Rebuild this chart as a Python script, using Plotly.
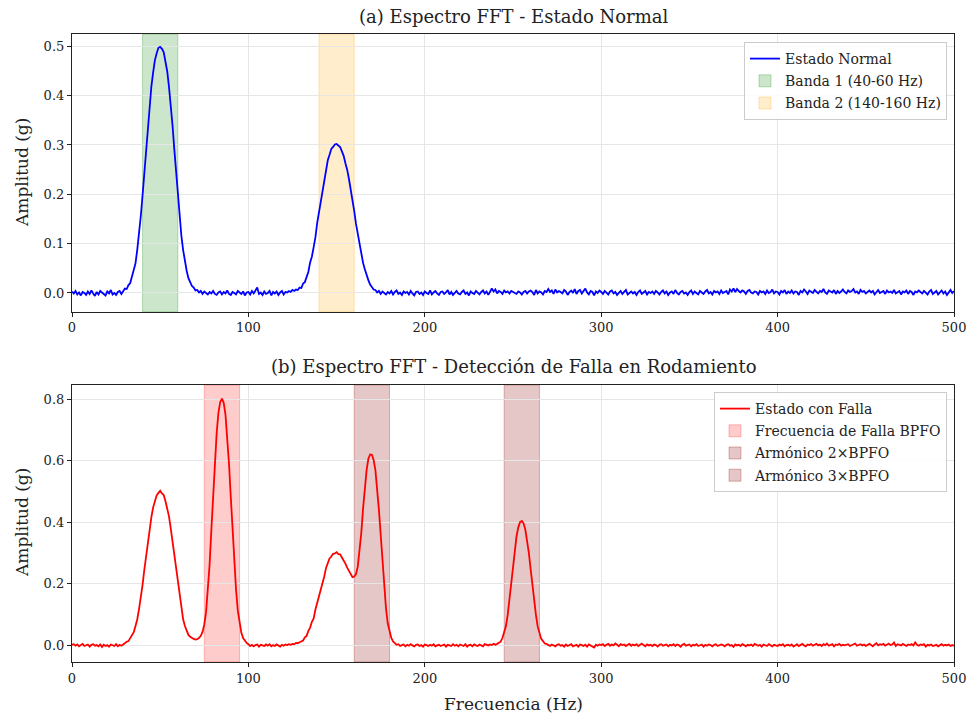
import plotly.graph_objects as go

# ---------------- data ----------------
freq_hz = list(range(0, 501))

amp_normal = [
    0.003, -0.001, 0.004, -0.003, 0.001, -0.005, 0.002, 0.000, -0.004, 0.003,
    -0.002, 0.005, -0.001, -0.006, 0.002, -0.003, 0.004, 0.001, -0.002, -0.005,
    0.003, -0.001, 0.006, -0.003, 0.000, -0.004, 0.002, 0.004, -0.002, 0.003,
    0.009, 0.008, 0.016, 0.020, 0.033, 0.045, 0.060, 0.088, 0.116, 0.156,
    0.198, 0.244, 0.293, 0.337, 0.381, 0.419, 0.447, 0.472, 0.486, 0.497,
    0.499, 0.495, 0.488, 0.470, 0.449, 0.417, 0.382, 0.339, 0.291, 0.246,
    0.197, 0.156, 0.116, 0.087, 0.061, 0.045, 0.030, 0.023, 0.014, 0.011,
    0.005, 0.006, 0.001, 0.004, -0.002, 0.003, 0.000, -0.003, 0.002, -0.001,
    0.004, -0.002, -0.004, 0.001, 0.003, -0.003, 0.002, -0.001, 0.005, -0.002,
    -0.004, 0.002, 0.000, -0.003, 0.004, 0.001, -0.002, 0.003, -0.005, 0.001,
    0.002, -0.003, 0.004, -0.001, 0.006, 0.011, -0.002, 0.001, -0.004, 0.003,
    -0.002, 0.000, 0.004, -0.005, 0.002, -0.001, 0.003, -0.004, 0.001, 0.004,
    -0.003, 0.002, 0.001, 0.004, 0.002, 0.006, 0.004, 0.007, 0.006, 0.011,
    0.010, 0.019, 0.022, 0.035, 0.043, 0.062, 0.074, 0.093, 0.113, 0.142,
    0.162, 0.187, 0.204, 0.228, 0.249, 0.269, 0.280, 0.292, 0.296, 0.301,
    0.302, 0.298, 0.296, 0.287, 0.278, 0.263, 0.250, 0.231, 0.211, 0.187,
    0.166, 0.140, 0.120, 0.096, 0.079, 0.061, 0.048, 0.034, 0.026, 0.017,
    0.013, 0.007, 0.006, 0.001, 0.004, -0.002, 0.003, 0.000, -0.003, 0.002,
    -0.001, 0.004, -0.003, 0.002, 0.005, -0.002, 0.001, -0.004, 0.003, 0.000,
    0.002, -0.003, 0.004, -0.001, -0.005, 0.002, 0.003, -0.002, 0.001, -0.004,
    0.003, 0.000, -0.002, 0.005, -0.003, 0.001, 0.004, -0.001, -0.004, 0.002,
    0.003, -0.002, 0.001, 0.006, -0.003, 0.002, -0.004, 0.000, 0.004, -0.001,
    -0.003, 0.002, 0.005, -0.002, 0.001, -0.005, 0.003, 0.000, -0.002, 0.004,
    0.001, -0.003, 0.002, 0.005, -0.001, 0.003, -0.004, 0.002, 0.009, 0.003,
    0.007, -0.001, 0.004, 0.002, -0.002, 0.005, 0.001, 0.003, -0.001, 0.004,
    0.002, 0.000, -0.002, 0.003, 0.001, -0.003, 0.002, 0.004, -0.001, 0.003,
    0.005, 0.002, -0.004, 0.006, -0.001, 0.003, 0.001, -0.003, 0.004, 0.002,
    0.008, 0.002, 0.005, -0.002, 0.007, 0.001, 0.004, 0.002, -0.001, 0.006,
    0.003, -0.004, 0.002, 0.005, 0.000, 0.008, -0.002, 0.004, 0.006, -0.001,
    0.003, 0.009, 0.001, -0.003, 0.004, 0.002, -0.005, 0.003, 0.000, 0.005,
    0.002, -0.002, 0.004, 0.001, -0.003, 0.003, 0.005, -0.001, 0.002, -0.004,
    0.001, 0.004, -0.002, 0.002, 0.006, -0.003, 0.000, 0.003, -0.001, 0.002,
    -0.004, 0.002, 0.005, -0.002, 0.001, 0.004, -0.003, 0.002, 0.000, 0.003,
    -0.002, 0.004, 0.001, -0.003, 0.002, 0.005, -0.001, 0.003, -0.004, 0.001,
    0.003, -0.002, 0.006, 0.000, -0.003, 0.002, 0.004, -0.001, 0.001, -0.004,
    0.002, 0.005, -0.002, 0.003, 0.000, -0.003, 0.004, 0.001, -0.002, 0.003,
    0.006, -0.001, 0.002, -0.003, 0.004, 0.001, 0.003, -0.002, 0.005, 0.000,
    0.002, 0.004, -0.003, 0.007, 0.003, 0.009, 0.002, 0.008, 0.004, 0.001,
    0.005, 0.003, -0.002, 0.004, 0.006, 0.001, -0.001, 0.003, 0.002, -0.003,
    0.004, 0.001, 0.003, -0.002, 0.005, 0.000, 0.002, 0.007, -0.001, 0.003,
    0.002, -0.003, 0.004, 0.001, 0.006, -0.002, 0.003, 0.000, 0.005, -0.001,
    0.003, 0.002, -0.004, 0.004, 0.001, 0.007, 0.003, -0.002, 0.005, 0.002,
    0.000, 0.006, 0.003, -0.001, 0.004, 0.002, 0.008, 0.001, -0.002, 0.005,
    0.003, 0.001, 0.006, -0.002, 0.004, 0.000, 0.003, 0.007, 0.002, -0.001,
    0.005, 0.002, 0.004, 0.008, 0.001, 0.003, -0.002, 0.006, 0.002, 0.004,
    -0.001, 0.003, 0.005, 0.001, 0.004, -0.003, 0.002, 0.006, 0.000, 0.003,
    0.004, -0.002, 0.005, 0.001, 0.003, 0.000, 0.006, -0.001, 0.002, 0.004,
    -0.003, 0.003, 0.001, 0.005, -0.002, 0.004, 0.002, -0.004, 0.003, 0.001,
    0.005, 0.002, -0.001, 0.004, 0.000, -0.003, 0.003, 0.006, -0.002, 0.002,
    0.004, -0.003, 0.001, 0.005, -0.001, 0.003, -0.004, 0.002, 0.006, 0.000,
    0.004,
]

amp_falla = [
    0.002, 0.004, -0.001, 0.003, -0.003, 0.001, 0.005, -0.002, 0.000, 0.003,
    -0.004, 0.002, 0.004, -0.001, 0.001, -0.003, 0.003, -0.005, 0.002, -0.002,
    0.001, -0.004, 0.003, 0.000, -0.002, 0.004, -0.003, 0.002, -0.001, 0.003,
    0.008, 0.012, 0.014, 0.023, 0.030, 0.043, 0.063, 0.085, 0.118, 0.154,
    0.197, 0.246, 0.291, 0.339, 0.380, 0.417, 0.449, 0.470, 0.488, 0.496,
    0.503, 0.494, 0.489, 0.469, 0.447, 0.419, 0.380, 0.338, 0.293, 0.244,
    0.199, 0.154, 0.118, 0.085, 0.063, 0.047, 0.034, 0.028, 0.023, 0.021,
    0.019, 0.020, 0.024, 0.031, 0.044, 0.068, 0.108, 0.172, 0.262, 0.376,
    0.492, 0.602, 0.690, 0.756, 0.791, 0.803, 0.789, 0.751, 0.679, 0.591,
    0.484, 0.379, 0.277, 0.181, 0.113, 0.069, 0.041, 0.024, 0.014, 0.008,
    0.004, -0.002, 0.002, -0.003, 0.001, 0.003, -0.004, 0.002, 0.000, -0.002,
    0.003, -0.001, 0.004, -0.003, 0.001, -0.002, 0.003, 0.000, -0.004, 0.002,
    -0.001, 0.003, 0.001, 0.004, 0.002, 0.005, 0.004, 0.008, 0.007, 0.010,
    0.013, 0.016, 0.026, 0.031, 0.047, 0.058, 0.077, 0.088, 0.117, 0.138,
    0.165, 0.183, 0.207, 0.224, 0.252, 0.266, 0.283, 0.289, 0.298, 0.299,
    0.303, 0.297, 0.296, 0.286, 0.278, 0.266, 0.253, 0.243, 0.229, 0.222,
    0.224, 0.232, 0.256, 0.304, 0.366, 0.445, 0.515, 0.570, 0.607, 0.621,
    0.620, 0.603, 0.570, 0.512, 0.440, 0.360, 0.272, 0.190, 0.120, 0.072,
    0.042, 0.024, 0.013, 0.009, 0.002, 0.004, -0.002, 0.001, 0.003, -0.003,
    0.002, -0.001, 0.004, 0.000, -0.003, 0.002, 0.003, -0.002, 0.001, -0.004,
    0.003, 0.001, -0.002, 0.002, -0.001, 0.004, -0.003, 0.000, 0.002, -0.002,
    0.001, 0.003, -0.004, 0.002, 0.000, -0.002, 0.004, -0.001, 0.002, -0.003,
    0.003, 0.000, -0.002, 0.004, -0.004, 0.001, 0.002, -0.003, 0.003, 0.000,
    -0.002, 0.003, 0.001, -0.003, 0.004, 0.002, 0.000, 0.003, 0.001, 0.005,
    0.002, 0.005, 0.008, 0.012, 0.024, 0.040, 0.063, 0.099, 0.150, 0.205,
    0.262, 0.314, 0.355, 0.384, 0.401, 0.405, 0.397, 0.376, 0.343, 0.300,
    0.248, 0.196, 0.142, 0.099, 0.061, 0.039, 0.021, 0.014, 0.006, 0.005,
    0.002, -0.002, 0.003, 0.000, -0.003, 0.002, 0.004, -0.001, 0.001, -0.004,
    0.003, -0.002, 0.001, 0.004, -0.003, 0.000, 0.002, -0.004, 0.003, 0.001,
    -0.002, 0.002, -0.004, 0.003, 0.000, -0.004, -0.007, 0.002, -0.001, 0.003,
    0.001, 0.004, -0.002, 0.002, 0.005, -0.001, 0.003, 0.000, 0.006, 0.002,
    -0.003, 0.004, 0.001, 0.003, -0.002, 0.002, 0.005, -0.001, 0.003, 0.000,
    0.004, -0.002, 0.002, 0.006, 0.001, -0.003, 0.003, 0.000, 0.002, -0.002,
    0.003, 0.001, -0.004, 0.002, 0.004, -0.001, 0.001, 0.003, -0.003, 0.002,
    0.000, 0.004, -0.002, 0.003, 0.001, -0.004, 0.002, 0.005, -0.001, 0.001,
    0.003, -0.003, 0.002, 0.000, 0.004, -0.002, 0.001, 0.003, -0.004, 0.002,
    -0.001, 0.003, 0.001, -0.003, 0.002, 0.004, -0.002, 0.000, 0.003, 0.001,
    -0.003, 0.002, 0.004, -0.001, 0.001, -0.005, 0.003, 0.000, 0.002, -0.002,
    0.004, 0.001, -0.003, 0.002, 0.000, 0.003, -0.002, 0.005, 0.001, -0.001,
    0.002, -0.004, 0.003, 0.001, -0.002, 0.004, 0.000, -0.003, 0.002, 0.001,
    -0.002, 0.003, 0.000, 0.004, -0.003, 0.001, 0.002, -0.001, 0.003, -0.004,
    0.001, 0.004, -0.002, 0.002, 0.005, 0.000, -0.003, 0.003, 0.001, 0.004,
    -0.001, 0.002, 0.005, 0.000, 0.003, -0.002, 0.004, 0.001, 0.006, -0.001,
    0.002, 0.004, -0.003, 0.003, 0.001, 0.005, -0.001, 0.002, 0.000, 0.003,
    0.004, -0.002, 0.001, 0.003, 0.006, -0.001, 0.002, 0.004, 0.000, 0.003,
    -0.002, 0.002, 0.005, 0.001, -0.003, 0.003, 0.007, 0.000, 0.004, 0.002,
    0.005, -0.001, 0.002, 0.006, 0.001, 0.003, 0.009, -0.002, 0.004, 0.002,
    0.000, 0.005, 0.002, -0.002, 0.003, 0.001, 0.004, 0.000, 0.010, 0.002,
    -0.001, 0.003, 0.001, 0.004, -0.004, 0.002, 0.000, 0.003, -0.002, 0.001,
    0.002, -0.003, 0.001, 0.004, -0.001, 0.002, 0.000, 0.003, -0.002, 0.001,
    -0.001,
]

bandas_a_nombre = ["Banda 1 (40-60 Hz)", "Banda 2 (140-160 Hz)"]
bandas_a_inicio = [40, 140]
bandas_a_fin = [60, 160]

bandas_b_nombre = ["Frecuencia de Falla BPFO", "Armónico 2×BPFO", "Armónico 3×BPFO"]
bandas_b_inicio = [75, 160, 245]
bandas_b_fin = [95, 180, 265]

x_ticks = [0, 100, 200, 300, 400, 500]
y_ticks_a = [0.0, 0.1, 0.2, 0.3, 0.4, 0.5]
y_ticks_b = [0.0, 0.2, 0.4, 0.6, 0.8]

# ---------------- styles ----------------
FONT = "DejaVu Serif"
TXT = "#222222"
colores_a = ["rgba(0,128,0,0.2)", "rgba(255,165,0,0.2)"]
bordes_a = ["rgba(0,128,0,0.25)", "rgba(255,165,0,0.25)"]
colores_b = ["rgba(255,0,0,0.2)", "rgba(139,0,0,0.22)", "rgba(139,0,0,0.22)"]
bordes_b = ["rgba(255,0,0,0.25)", "rgba(139,0,0,0.28)", "rgba(139,0,0,0.28)"]

fig = go.Figure()

fig.add_trace(go.Scatter(
    x=freq_hz, y=amp_normal, mode="lines", name="Estado Normal",
    line=dict(color="#0000ff", width=1.8), xaxis="x", yaxis="y",
    legend="legend", legendrank=1, legendgroup="a0",
))
fig.add_trace(go.Scatter(
    x=freq_hz, y=amp_falla, mode="lines", name="Estado con Falla",
    line=dict(color="#ff0000", width=1.8), xaxis="x2", yaxis="y2",
    legend="legend2", legendrank=1, legendgroup="b0",
))

shapes = []
for i, (nm, a, b) in enumerate(zip(bandas_a_nombre, bandas_a_inicio, bandas_a_fin)):
    shapes.append(dict(
        type="rect", xref="x", yref="y domain", x0=a, x1=b, y0=0, y1=1,
        fillcolor=colores_a[i], line=dict(color=bordes_a[i], width=1),
        layer="below", showlegend=True, name=nm, legend="legend",
        legendrank=2 + i, legendgroup="a%d" % (i + 1),
    ))
for i, (nm, a, b) in enumerate(zip(bandas_b_nombre, bandas_b_inicio, bandas_b_fin)):
    shapes.append(dict(
        type="rect", xref="x2", yref="y2 domain", x0=a, x1=b, y0=0, y1=1,
        fillcolor=colores_b[i], line=dict(color=bordes_b[i], width=1),
        layer="below", showlegend=True, name=nm, legend="legend2",
        legendrank=2 + i, legendgroup="b%d" % (i + 1),
    ))

axis_common = dict(
    showgrid=True, gridcolor="#e6e6e6", gridwidth=1,
    showline=True, mirror=True, linecolor=TXT, linewidth=1.2,
    ticks="outside", ticklen=4, tickcolor=TXT,
    tickfont=dict(family=FONT, size=13, color=TXT),
    zeroline=False, automargin=False, ticklabeloverflow="allow",
)

FIG_W, FIG_H = 971, 717
H_TOP, H_BOT = 34, 55
M_L, M_R = 72, 17
plot_h = FIG_H - H_TOP - H_BOT
plot_w = FIG_W - M_L - M_R


def py(px):
    return (FIG_H - H_BOT - px) / plot_h


def pxx(px):
    return (px - M_L) / plot_w


legend_common = dict(
    xanchor="right", yanchor="top",
    bgcolor="rgba(255,255,255,0.85)", bordercolor="#cccccc", borderwidth=1,
    font=dict(family=FONT, size=14, color=TXT),
    tracegroupgap=1, itemwidth=30,
)

fig.update_layout(
    width=FIG_W, height=FIG_H,
    margin=dict(l=M_L, r=M_R, t=H_TOP, b=H_BOT, autoexpand=False),
    paper_bgcolor="white", plot_bgcolor="white",
    showlegend=True,
    shapes=shapes,
    xaxis=dict(domain=[0, 1], anchor="y", range=[0, 500], tickvals=x_ticks, **axis_common),
    yaxis=dict(domain=[0.5578, 1], anchor="x", range=[-0.038, 0.525],
               tickvals=y_ticks_a, tickformat=".1f", **axis_common),
    xaxis2=dict(domain=[0, 1], anchor="y2", range=[0, 500], tickvals=x_ticks, **axis_common),
    yaxis2=dict(domain=[0, 0.4411], anchor="x2", range=[-0.054, 0.847],
                tickvals=y_ticks_b, tickformat=".1f", **axis_common),
    legend=dict(x=pxx(947), y=py(42), **legend_common),
    legend2=dict(x=pxx(947), y=py(392), **legend_common),
    annotations=[
        dict(text="(a) Espectro FFT - Estado Normal", xref="paper", yref="paper",
             x=0.5, y=py(17), xanchor="center", yanchor="middle",
             showarrow=False, font=dict(family=FONT, size=18, color=TXT)),
        dict(text="(b) Espectro FFT - Detección de Falla en Rodamiento", xref="paper", yref="paper",
             x=0.5, y=py(367), xanchor="center", yanchor="middle",
             showarrow=False, font=dict(family=FONT, size=18, color=TXT)),
        dict(text="Amplitud (g)", xref="paper", yref="paper",
             x=pxx(22), y=py(173), xanchor="center", yanchor="middle",
             textangle=-90, showarrow=False, font=dict(family=FONT, size=17, color=TXT)),
        dict(text="Amplitud (g)", xref="paper", yref="paper",
             x=pxx(22), y=py(523), xanchor="center", yanchor="middle",
             textangle=-90, showarrow=False, font=dict(family=FONT, size=17, color=TXT)),
        dict(text="Frecuencia (Hz)", xref="paper", yref="paper",
             x=0.5, y=py(704), xanchor="center", yanchor="middle",
             showarrow=False, font=dict(family=FONT, size=17, color=TXT)),
    ],
)

fig.write_html(
    "out.html",
    config={"displayModeBar": False},
    post_script="document.body.style.margin='0';document.body.style.padding='0';"
                "document.body.style.overflow='hidden';",
)
